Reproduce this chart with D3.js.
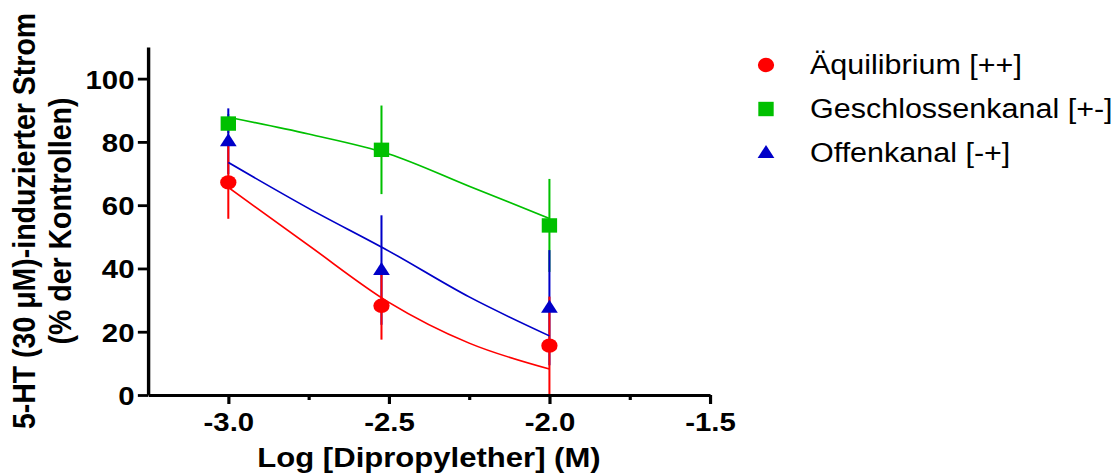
<!DOCTYPE html>
<html>
<head>
<meta charset="utf-8">
<script src="https://cdn.jsdelivr.net/npm/d3@7"></script>
<style>
  html, body { margin: 0; padding: 0; background: #fff; }
  svg { display: block; }
  text { font-family: "Liberation Sans", Arial, sans-serif; fill: #000; }
</style>
</head>
<body>
<div id="chart"></div>
<script>
// log concentrations (1, 3, 10 mM)
const logConc = [-3.0, -2.523, -2.0]

const seriesNames = ['Äquilibrium [++]', 'Geschlossenkanal [+-]', 'Offenkanal [-+]']
const seriesColors = ['#ff0000', '#00c000', '#0000c8']
const seriesShapes = ['circle', 'square', 'triangle']

// means and errors (% of control)
const aequiMean = [67.2, 28.2, 15.6]
const aequiErr = [11.5, 10.7, 15.5]
const geschlMean = [85.8, 77.5, 53.6]
const geschlErr = [3, 14, 14.7]
const offenMean = [80.2, 39.5, 27.6]
const offenErr = [10.4, 17.3, 18.2]

// fitted curves
const curveX = [-3.0, -2.75, -2.5, -2.25, -2.0]
const aequiFit = [65.6, 47.3, 29.3, 16.4, 8.2]
const geschlFit = [87.8, 82.5, 76.2, 66.0, 55.8]
const offenFit = [73.5, 59.0, 45.5, 31.0, 18.7]

const xTicks = [-3.0, -2.5, -2.0, -1.5]
const xMinorTicks = [-2.75, -2.25, -1.75]
const yTicks = [0, 20, 40, 60, 80, 100]

const means = [aequiMean, geschlMean, offenMean]
const errs = [aequiErr, geschlErr, offenErr]
const fits = [aequiFit, geschlFit, offenFit]

// the picture is a bit stretched sideways, so draw in a narrower box
let W = 1115, H = 476, sx = 1.13
let innerW = W / sx

let svg = d3.select('#chart').append('svg')
  .attr('width', W)
  .attr('height', H)
  .attr('viewBox', '0 0 ' + innerW + ' ' + H)
  .attr('preserveAspectRatio', 'none')

let x = d3.scaleLinear().domain([-3.25, -1.5]).range([131, 628.3])
let y = d3.scaleLinear().domain([0, 110]).range([395, 47])

// error bars first, green - blue - red so red ends up on top
let drawOrder = [1, 2, 0]
drawOrder.forEach(function(s) {
  svg.append('g').selectAll('line')
    .data(logConc)
    .enter()
    .append('line')
    .attr('x1', d => x(d))
    .attr('x2', d => x(d))
    .attr('y1', (d, i) => y(Math.max(0, means[s][i] - errs[s][i])))
    .attr('y2', (d, i) => y(means[s][i] + errs[s][i]))
    .attr('stroke', seriesColors[s])
    .attr('stroke-width', 1.8)
})

// fit curves
let line = d3.line()
  .x(d => x(d[0]))
  .y(d => y(d[1]))
  .curve(d3.curveMonotoneX)

drawOrder.forEach(function(s) {
  svg.append('path')
    .datum(curveX.map((c, i) => [c, fits[s][i]]))
    .attr('d', line)
    .attr('fill', 'none')
    .attr('stroke', seriesColors[s])
    .attr('stroke-width', 1.6)
})

// symbol shapes
function drawMarker(g, shape, cx, cy, color) {
  if (shape === 'circle') {
    g.append('circle').attr('cx', cx).attr('cy', cy).attr('r', 7.2).attr('fill', color)
  } else if (shape === 'square') {
    g.append('rect').attr('x', cx - 6.8).attr('y', cy - 7.2).attr('width', 13.6).attr('height', 14.4).attr('fill', color)
  } else {
    let hw = 7.4, up = 8, dn = 5
    g.append('path')
      .attr('d', 'M' + cx + ',' + (cy - up) + 'L' + (cx + hw) + ',' + (cy + dn) + 'L' + (cx - hw) + ',' + (cy + dn) + 'Z')
      .attr('fill', color)
  }
}

let markers = svg.append('g')
drawOrder.forEach(function(s) {
  logConc.forEach(function(c, i) {
    drawMarker(markers, seriesShapes[s], x(c), y(means[s][i]), seriesColors[s])
  })
})

// axes
let xAxis = d3.axisBottom(x).tickValues(xTicks).tickSize(9).tickSizeOuter(0)
  .tickPadding(8).tickFormat(d3.format('.1f'))
let gx = svg.append('g').attr('transform', 'translate(0,395)').call(xAxis)
gx.selectAll('.tick text').style('font-size', '26px').style('font-weight', 'bold')
  .attr('dy', '0.72em')
  .text(d => d3.format('.1f')(d).replace('−', '-'))

svg.append('g').attr('transform', 'translate(0,395)')
  .call(d3.axisBottom(x).tickValues(xMinorTicks).tickSize(5).tickSizeOuter(0).tickFormat(''))
  .select('.domain').remove()

let yAxis = d3.axisLeft(y).tickValues(yTicks).tickSize(9).tickSizeOuter(0).tickPadding(3)
let gy = svg.append('g').attr('transform', 'translate(131,0)').call(yAxis)
gy.selectAll('.tick text').style('font-size', '26px').style('font-weight', 'bold')
  .attr('dy', '0.36em')

svg.selectAll('.domain').attr('stroke-width', 3).attr('stroke', '#000')
svg.selectAll('.tick line').attr('stroke-width', 2.8).attr('stroke', '#000')

// axis titles
svg.append('text')
  .attr('x', (x(-3.25) + x(-1.5)) / 2)
  .attr('y', 467)
  .attr('text-anchor', 'middle')
  .style('font-size', '27.5px')
  .style('font-weight', 'bold')
  .text('Log [Dipropylether] (M)')

let yMid = (y(0) + y(110)) / 2
svg.append('text')
  .attr('transform', 'translate(31,' + yMid + ') rotate(-90)')
  .attr('text-anchor', 'middle')
  .style('font-size', '28.5px')
  .style('font-weight', 'bold')
  .text('5-HT (30 μM)-induzierter Strom')
svg.append('text')
  .attr('transform', 'translate(63,' + yMid + ') rotate(-90)')
  .attr('text-anchor', 'middle')
  .style('font-size', '28.5px')
  .style('font-weight', 'bold')
  .text('(% der Kontrollen)')

// legend
let legendY = [65, 109, 153]
let legend = svg.append('g')
seriesNames.forEach(function(name, i) {
  drawMarker(legend, seriesShapes[i], 766 / sx, legendY[i], seriesColors[i])
  legend.append('text')
    .attr('x', 810 / sx)
    .attr('y', legendY[i] + 9)
    .style('font-size', '27px')
    .text(name)
})
</script>
</body>
</html>
